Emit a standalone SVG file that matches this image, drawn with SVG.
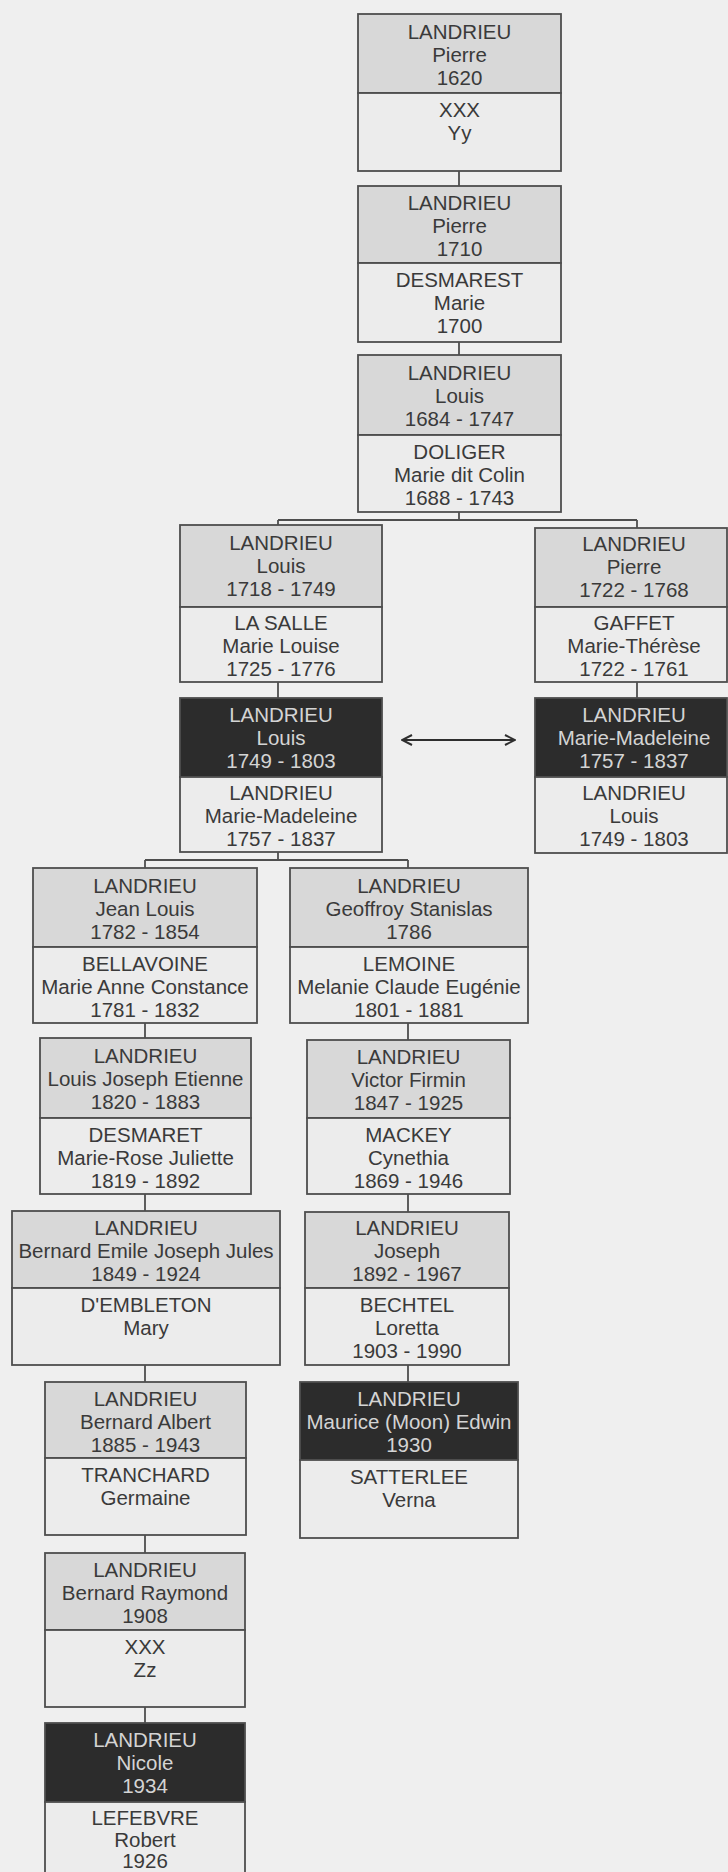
<svg xmlns="http://www.w3.org/2000/svg" width="728" height="1872" viewBox="0 0 728 1872">
<defs>
<style>
.bg{fill:#efefef}
.tp{fill:#d8d8d8;stroke:#4e4e4e;stroke-width:1.8}
.bt{fill:#ececec;stroke:#4e4e4e;stroke-width:1.8}
.dk{fill:#2c2c2c;stroke:#4e4e4e;stroke-width:1.8}
text{font-family:"Liberation Sans",Arial,sans-serif;font-size:20.5px;text-anchor:middle;fill:#3a3a3a}
text.lt{fill:#d4d4d4}
.cn{fill:none;stroke:#4e4e4e;stroke-width:1.8}
</style>
<marker id="ah" viewBox="0 0 12 12" refX="11" refY="6" markerWidth="12" markerHeight="12" markerUnits="userSpaceOnUse" orient="auto-start-reverse">
<path d="M1,1 L11,6 L1,11" fill="none" stroke="#2e2e2e" stroke-width="2"/>
</marker>
</defs>
<rect class="bg" x="0" y="0" width="728" height="1872"/>

<g id="connectors">
<path class="cn" d="M459,171V186 M459,342V355 M459,512V520 M278,520H637 M278,520V525 M637,520V528 M278,682V698 M637,682V698 M278,852V860 M145,860H408 M145,860V868 M408,860V868 M145,1023V1038 M145,1194V1211 M145,1365V1382 M145,1535V1553 M145,1707V1723 M408,1023V1040 M408,1194V1212 M408,1365V1382"/>
<line x1="402" y1="740" x2="515" y2="740" stroke="#2e2e2e" stroke-width="2.2" marker-start="url(#ah)" marker-end="url(#ah)"/>
</g>

<g id="n1">
<rect class="tp" x="358" y="14" width="203" height="79"/>
<rect class="bt" x="358" y="93" width="203" height="78"/>
<text x="459.5" y="39">LANDRIEU</text><text x="459.5" y="62">Pierre</text><text x="459.5" y="85">1620</text>
<text x="459.5" y="117">XXX</text><text x="459.5" y="140">Yy</text>
</g>

<g id="n2">
<rect class="tp" x="358" y="186" width="203" height="77"/>
<rect class="bt" x="358" y="263" width="203" height="79"/>
<text x="459.5" y="210">LANDRIEU</text><text x="459.5" y="233">Pierre</text><text x="459.5" y="256">1710</text>
<text x="459.5" y="287">DESMAREST</text><text x="459.5" y="310">Marie</text><text x="459.5" y="333">1700</text>
</g>

<g id="n3">
<rect class="tp" x="358" y="355" width="203" height="80"/>
<rect class="bt" x="358" y="435" width="203" height="77"/>
<text x="459.5" y="380">LANDRIEU</text><text x="459.5" y="403">Louis</text><text x="459.5" y="426">1684 - 1747</text>
<text x="459.5" y="459">DOLIGER</text><text x="459.5" y="482">Marie dit Colin</text><text x="459.5" y="505">1688 - 1743</text>
</g>

<g id="n4l">
<rect class="tp" x="180" y="525" width="202" height="82"/>
<rect class="bt" x="180" y="607" width="202" height="75"/>
<text x="281" y="550">LANDRIEU</text><text x="281" y="573">Louis</text><text x="281" y="596">1718 - 1749</text>
<text x="281" y="630">LA SALLE</text><text x="281" y="653">Marie Louise</text><text x="281" y="676">1725 - 1776</text>
</g>

<g id="n4r">
<rect class="tp" x="535" y="528" width="192" height="79"/>
<rect class="bt" x="535" y="607" width="192" height="75"/>
<text x="634" y="551">LANDRIEU</text><text x="634" y="574">Pierre</text><text x="634" y="597">1722 - 1768</text>
<text x="634" y="630">GAFFET</text><text x="634" y="653">Marie-Thérèse</text><text x="634" y="676">1722 - 1761</text>
</g>

<g id="n5l">
<rect class="dk" x="180" y="698" width="202" height="79"/>
<rect class="bt" x="180" y="777" width="202" height="75"/>
<text class="lt" x="281" y="722">LANDRIEU</text><text class="lt" x="281" y="745">Louis</text><text class="lt" x="281" y="768">1749 - 1803</text>
<text x="281" y="800">LANDRIEU</text><text x="281" y="823">Marie-Madeleine</text><text x="281" y="846">1757 - 1837</text>
</g>

<g id="n5r">
<rect class="dk" x="535" y="698" width="192" height="79"/>
<rect class="bt" x="535" y="777" width="192" height="76"/>
<text class="lt" x="634" y="722">LANDRIEU</text><text class="lt" x="634" y="745">Marie-Madeleine</text><text class="lt" x="634" y="768">1757 - 1837</text>
<text x="634" y="800">LANDRIEU</text><text x="634" y="823">Louis</text><text x="634" y="846">1749 - 1803</text>
</g>

<g id="n6l">
<rect class="tp" x="33" y="868" width="224" height="79"/>
<rect class="bt" x="33" y="947" width="224" height="76"/>
<text x="145" y="893">LANDRIEU</text><text x="145" y="916">Jean Louis</text><text x="145" y="939">1782 - 1854</text>
<text x="145" y="971">BELLAVOINE</text><text x="145" y="994">Marie Anne Constance</text><text x="145" y="1017">1781 - 1832</text>
</g>

<g id="n6r">
<rect class="tp" x="290" y="868" width="238" height="79"/>
<rect class="bt" x="290" y="947" width="238" height="76"/>
<text x="409" y="893">LANDRIEU</text><text x="409" y="916">Geoffroy Stanislas</text><text x="409" y="939">1786</text>
<text x="409" y="971">LEMOINE</text><text x="409" y="994">Melanie Claude Eugénie</text><text x="409" y="1017">1801 - 1881</text>
</g>

<g id="n7l">
<rect class="tp" x="40" y="1038" width="211" height="80"/>
<rect class="bt" x="40" y="1118" width="211" height="76"/>
<text x="145.5" y="1063">LANDRIEU</text><text x="145.5" y="1086">Louis Joseph Etienne</text><text x="145.5" y="1109">1820 - 1883</text>
<text x="145.5" y="1142">DESMARET</text><text x="145.5" y="1165">Marie-Rose Juliette</text><text x="145.5" y="1188">1819 - 1892</text>
</g>

<g id="n7r">
<rect class="tp" x="307" y="1040" width="203" height="78"/>
<rect class="bt" x="307" y="1118" width="203" height="76"/>
<text x="408.5" y="1064">LANDRIEU</text><text x="408.5" y="1087">Victor Firmin</text><text x="408.5" y="1110">1847 - 1925</text>
<text x="408.5" y="1142">MACKEY</text><text x="408.5" y="1165">Cynethia</text><text x="408.5" y="1188">1869 - 1946</text>
</g>

<g id="n8l">
<rect class="tp" x="12" y="1211" width="268" height="77"/>
<rect class="bt" x="12" y="1288" width="268" height="77"/>
<text x="146" y="1235">LANDRIEU</text><text x="146" y="1258">Bernard Emile Joseph Jules</text><text x="146" y="1281">1849 - 1924</text>
<text x="146" y="1312">D'EMBLETON</text><text x="146" y="1335">Mary</text>
</g>

<g id="n8r">
<rect class="tp" x="305" y="1212" width="204" height="76"/>
<rect class="bt" x="305" y="1288" width="204" height="77"/>
<text x="407" y="1235">LANDRIEU</text><text x="407" y="1258">Joseph</text><text x="407" y="1281">1892 - 1967</text>
<text x="407" y="1312">BECHTEL</text><text x="407" y="1335">Loretta</text><text x="407" y="1358">1903 - 1990</text>
</g>

<g id="n9l">
<rect class="tp" x="45" y="1382" width="201" height="76"/>
<rect class="bt" x="45" y="1458" width="201" height="77"/>
<text x="145.5" y="1406">LANDRIEU</text><text x="145.5" y="1429">Bernard Albert</text><text x="145.5" y="1452">1885 - 1943</text>
<text x="145.5" y="1482">TRANCHARD</text><text x="145.5" y="1505">Germaine</text>
</g>

<g id="n9r">
<rect class="dk" x="300" y="1382" width="218" height="78"/>
<rect class="bt" x="300" y="1460" width="218" height="78"/>
<text class="lt" x="409" y="1406">LANDRIEU</text><text class="lt" x="409" y="1429">Maurice (Moon) Edwin</text><text class="lt" x="409" y="1452">1930</text>
<text x="409" y="1484">SATTERLEE</text><text x="409" y="1507">Verna</text>
</g>

<g id="n10l">
<rect class="tp" x="45" y="1553" width="200" height="77"/>
<rect class="bt" x="45" y="1630" width="200" height="77"/>
<text x="145" y="1577">LANDRIEU</text><text x="145" y="1600">Bernard Raymond</text><text x="145" y="1623">1908</text>
<text x="145" y="1654">XXX</text><text x="145" y="1677">Zz</text>
</g>

<g id="n11l">
<rect class="dk" x="45" y="1723" width="200" height="79"/>
<rect class="bt" x="45" y="1802" width="200" height="80"/>
<text class="lt" x="145" y="1747">LANDRIEU</text><text class="lt" x="145" y="1770">Nicole</text><text class="lt" x="145" y="1793">1934</text>
<text x="145" y="1825">LEFEBVRE</text><text x="145" y="1847">Robert</text><text x="145" y="1868">1926</text>
</g>
</svg>
